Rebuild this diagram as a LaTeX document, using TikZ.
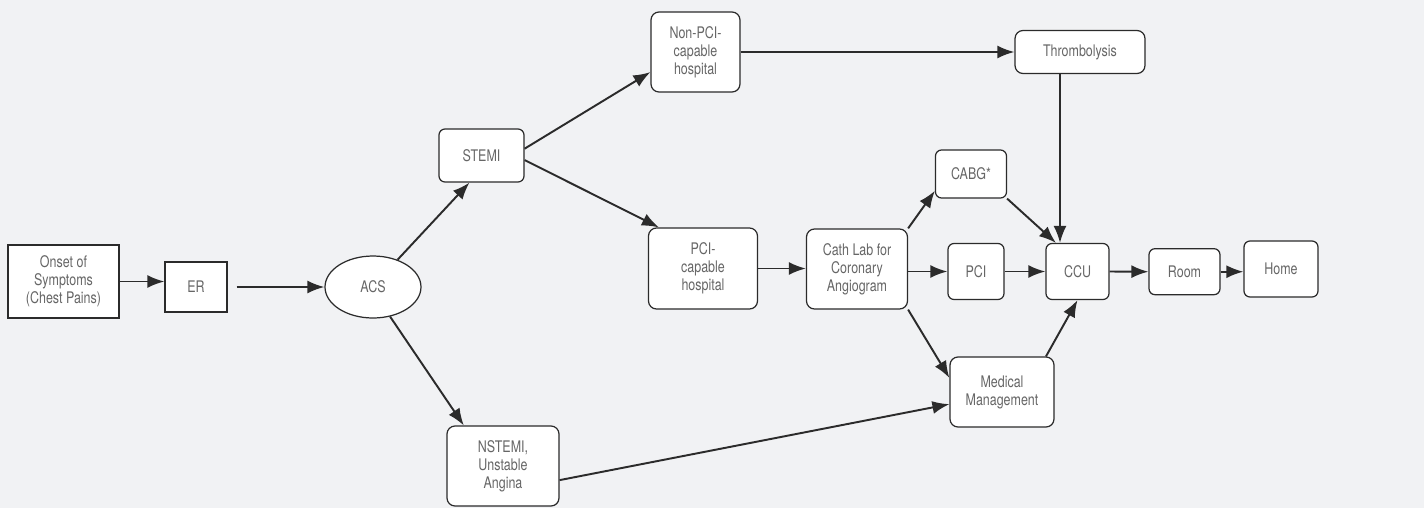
\documentclass[tikz,border=0pt]{standalone}
\usepackage{fontspec}
\setmainfont{TeX Gyre Heros}[FakeStretch=0.78]
\usepackage{xcolor}
\usepackage{tikz}
\usetikzlibrary{arrows.meta,shapes.geometric}
\definecolor{bggray}{HTML}{F1F2F4}
\definecolor{txtgray}{HTML}{666666}
\definecolor{edgegray}{HTML}{2B2B2B}
\tikzset{
  box/.style={draw=edgegray,line width=0.7pt,fill=white,text=txtgray,align=center,
    font=\fontsize{9.1}{10.3}\selectfont,inner sep=1pt},
  rbox/.style={box,rounded corners=1.6mm},
  arr/.style={-{Latex[length=3.4mm,width=2.6mm]},line width=1.1pt,draw=edgegray}
}

\begin{document}
\begin{tikzpicture}[x=0.02cm,y=-0.02cm]
\useasboundingbox[fill=bggray] (0,0) rectangle (1424,508);
% nodes
\node[box,minimum width=2.22cm,minimum height=1.46cm] (onset) at (63.5,281.5) {Onset of\\Symptoms\\(Chest Pains)};
\node[box,minimum width=1.24cm,minimum height=1.0cm] (er) at (196,287) {ER};
\node[box,ellipse,minimum width=1.92cm,minimum height=1.24cm] (acs) at (373,287) {ACS};
\node[rbox,rounded corners=1.2mm,minimum width=1.7cm,minimum height=1.06cm] (stemi) at (481.5,155.5) {STEMI};
\node[rbox,minimum width=2.24cm,minimum height=1.6cm] (nstemi) at (503,466) {NSTEMI,\\Unstable\\Angina};
\node[rbox,minimum width=1.78cm,minimum height=1.6cm] (nonpci) at (695.5,52) {Non-PCI-\\capable\\hospital};
\node[rbox,minimum width=2.18cm,minimum height=1.62cm] (pcicap) at (703,268.5) {PCI-\\capable\\hospital};
\node[rbox,minimum width=2.6cm,minimum height=0.86cm] (thromb) at (1080,52) {Thrombolysis};
\node[rbox,rounded corners=1.2mm,minimum width=1.42cm,minimum height=0.96cm] (cabg) at (971,174) {CABG*};
\node[rbox,minimum width=2.02cm,minimum height=1.6cm] (cath) at (857,269) {Cath Lab for\\Coronary\\Angiogram};
\node[rbox,rounded corners=1.2mm,minimum width=1.12cm,minimum height=1.12cm] (pci) at (976,271.5) {PCI};
\node[rbox,rounded corners=1.2mm,minimum width=1.26cm,minimum height=1.12cm] (ccu) at (1077.5,271.5) {CCU};
\node[rbox,rounded corners=1.2mm,minimum width=1.42cm,minimum height=0.92cm] (room) at (1184.5,271.7) {Room};
\node[rbox,rounded corners=1.2mm,minimum width=1.48cm,minimum height=1.12cm] (home) at (1281,269) {Home};
\node[rbox,minimum width=2.08cm,minimum height=1.4cm] (medical) at (1002,392) {Medical\\Management};
% arrows
\draw[arr] (onset.east) -- (onset.east -| er.west);
\draw[arr,shorten <=0.18cm] (er.east) -- (acs.west);
\draw[arr] (acs.48) -- (stemi.246);
\draw[arr] (acs.300) -- (nstemi.134);
\draw[arr] (stemi.9) -- (nonpci.204);
\draw[arr] (stemi.-6) -- (pcicap.137);
\draw[arr] (nonpci.east) -- (thromb.west);
\draw[arr] ([xshift=-0.4cm]thromb.south) -- ([xshift=-0.35cm]ccu.north);
\draw[arr] (pcicap.east) -- (cath.west |- pcicap.east);
\draw[arr] (cath.north east) -- (cabg.205);
\draw[arr] (cath.east |- pci.west) -- (pci.west);
\draw[arr] (cath.south east) -- (medical.165);
\draw[arr] (cabg.south east) -- (ccu.127);
\draw[arr] (pci.east) -- (ccu.west);
\draw[arr] (medical.39) -- (ccu.south);
\draw[arr] (ccu.east) -- (room.west);
\draw[arr] (room.east) -- (home.west |- room.east);
\draw[arr] (nstemi.-14) -- (medical.193);
\end{tikzpicture}
\end{document}
